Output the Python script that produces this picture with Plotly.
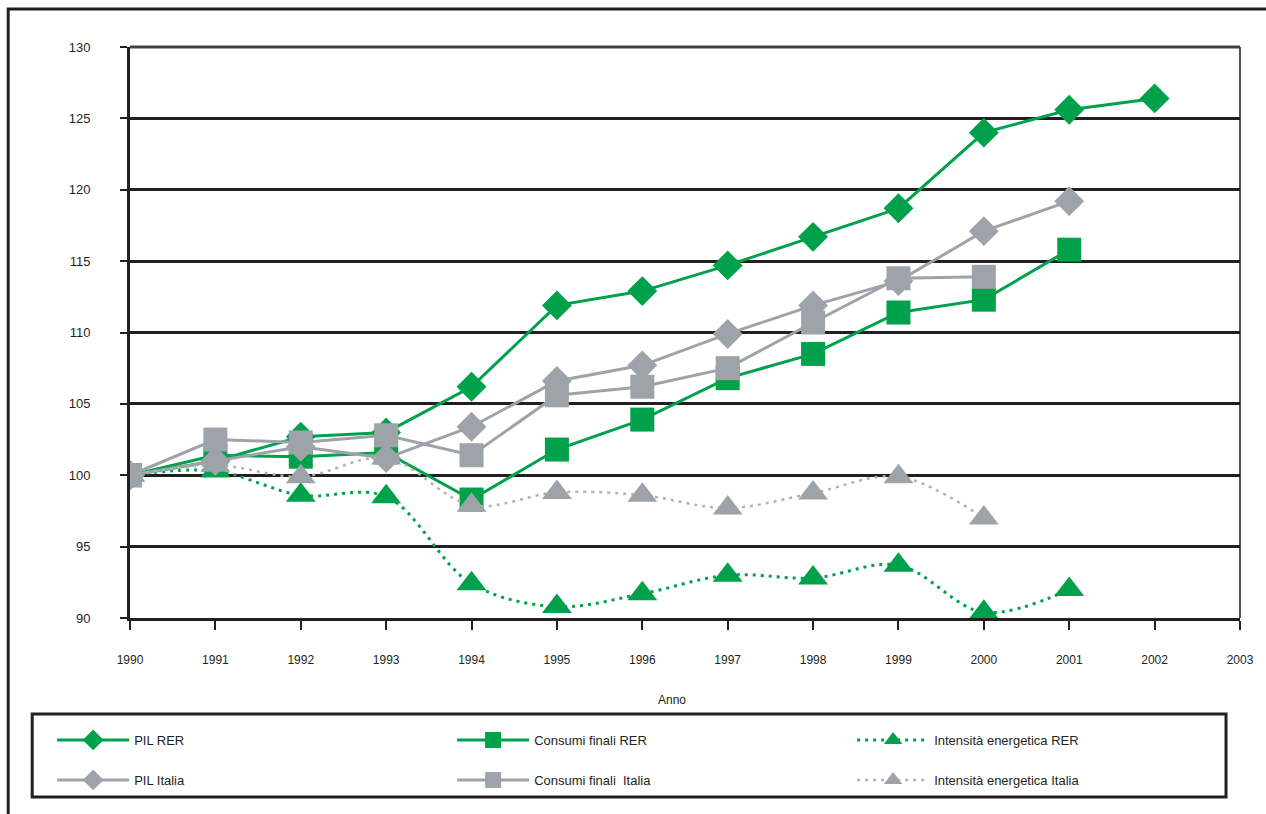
import plotly.graph_objects as go

years = [1990, 1991, 1992, 1993, 1994, 1995, 1996, 1997, 1998, 1999, 2000, 2001, 2002]

pil_rer = [100, 101.0, 102.7, 103.0, 106.2, 111.9, 112.9, 114.7, 116.7, 118.7, 124.0, 125.6, 126.4]
cons_rer = [100, 101.4, 101.3, 101.6, 98.3, 101.8, 103.9, 106.8, 108.5, 111.4, 112.3, 115.8]
int_rer = [100, 100.3, 98.6, 98.5, 92.4, 90.8, 91.7, 93.0, 92.8, 93.7, 90.4, 92.0]
pil_it = [100, 101.0, 102.0, 101.2, 103.4, 106.6, 107.7, 109.9, 111.9, 113.6, 117.1, 119.2]
cons_it = [100, 102.5, 102.3, 102.8, 101.4, 105.6, 106.2, 107.5, 110.7, 113.8, 113.9]
int_it = [100, 100.7, 99.9, 101.2, 97.9, 98.8, 98.6, 97.7, 98.75, 99.9, 97.0]

x_ticks = list(range(1990, 2004))
y_ticks = [90, 95, 100, 105, 110, 115, 120, 125, 130]

GREEN = "#00A14B"
GRAY = "#9DA3A8"
INK = "#231F20"

W, H = 1266, 814
L, R, T, B = 130, 1242, 47, 618
PW, PH = R - L, B - T


def px(x):
    return (x - L) / PW


def py(y):
    return (B - y) / PH


fig = go.Figure()

fig.add_trace(go.Scatter(
    x=years[:len(pil_rer)], y=pil_rer, name="PIL RER", mode="lines+markers",
    line=dict(color=GREEN, width=3),
    marker=dict(symbol="diamond", size=23, color=GREEN, line=dict(width=0)),
    legend="legend"))
fig.add_trace(go.Scatter(
    x=years[:len(cons_rer)], y=cons_rer, name="Consumi finali RER", mode="lines+markers",
    line=dict(color=GREEN, width=3),
    marker=dict(symbol="square", size=24, color=GREEN, line=dict(width=0)),
    legend="legend"))
fig.add_trace(go.Scatter(
    x=years[:len(int_rer)], y=int_rer, name="Intensità energetica RER", mode="lines+markers",
    line=dict(color=GREEN, width=3, dash="3px,5px", shape="spline", smoothing=1),
    marker=dict(symbol="triangle-up", size=26, color=GREEN, line=dict(width=0)),
    legend="legend"))
fig.add_trace(go.Scatter(
    x=years[:len(pil_it)], y=pil_it, name="PIL Italia", mode="lines+markers",
    line=dict(color=GRAY, width=3),
    marker=dict(symbol="diamond", size=23, color=GRAY, line=dict(width=0)),
    legend="legend2"))
fig.add_trace(go.Scatter(
    x=years[:len(cons_it)], y=cons_it, name="Consumi finali  Italia", mode="lines+markers",
    line=dict(color=GRAY, width=3),
    marker=dict(symbol="square", size=24, color=GRAY, line=dict(width=0)),
    legend="legend2"))
fig.add_trace(go.Scatter(
    x=years[:len(int_it)], y=int_it, name="Intensità energetica Italia", mode="lines+markers",
    line=dict(color="#AEB3B7", width=2.5, dash="3px,5px", shape="spline", smoothing=1),
    marker=dict(symbol="triangle-up", size=26, color=GRAY, line=dict(width=0)),
    legend="legend2"))

font = dict(family="Liberation Sans, Arial, sans-serif", size=13, color=INK)
small = dict(family="Liberation Sans, Arial, sans-serif", size=12, color=INK)

legend_common = dict(
    orientation="h", xanchor="left", yanchor="middle",
    x=px(52), entrywidth=313, entrywidthmode="pixels", itemwidth=72,
    bgcolor="rgba(0,0,0,0)", borderwidth=0, font=font, itemclick=False,
)

fig.update_layout(
    width=W, height=H,
    margin=dict(l=L, r=W - R, t=T, b=H - B),
    paper_bgcolor="white", plot_bgcolor="white",
    font=font,
    showlegend=True,
    legend=dict(y=py(740), **legend_common),
    legend2=dict(y=py(780), **legend_common),
    xaxis=dict(
        range=[1990, 2003], tickvals=x_ticks, ticktext=[str(v) for v in x_ticks],
        showgrid=False, zeroline=False,
        showline=True, linecolor=INK, linewidth=3,
        ticks="outside", ticklen=9, tickwidth=2, tickcolor=INK,
        ticklabelstandoff=20, tickfont=small,
    ),
    yaxis=dict(
        range=[90, 130], tickvals=y_ticks,
        showgrid=True, gridcolor=INK, gridwidth=3, zeroline=False,
        showline=True, linecolor=INK, linewidth=3,
        ticks="outside", ticklen=7, tickwidth=2, tickcolor=INK,
        ticklabelstandoff=27, tickfont=font,
    ),
    annotations=[dict(
        text="Anno", x=px(673), y=py(700), xref="paper", yref="paper",
        xanchor="center", yanchor="middle", showarrow=False, font=small,
    )],
    shapes=[
        dict(type="rect", xref="paper", yref="paper",
             x0=px(8), x1=px(1275), y0=py(825), y1=py(9),
             line=dict(color=INK, width=3), layer="below"),
        dict(type="rect", xref="paper", yref="paper",
             x0=px(32), x1=px(1228), y0=py(797), y1=py(714),
             line=dict(color=INK, width=3), layer="below"),
        dict(type="line", xref="paper", yref="paper",
             x0=1, x1=1, y0=0, y1=1,
             line=dict(color="#4D5557", width=2), layer="below"),
        dict(type="line", xref="paper", yref="paper",
             x0=0, x1=1, y0=1, y1=1,
             line=dict(color="#3A4444", width=3), layer="below"),
    ],
)

fig.write_html("out.html")
